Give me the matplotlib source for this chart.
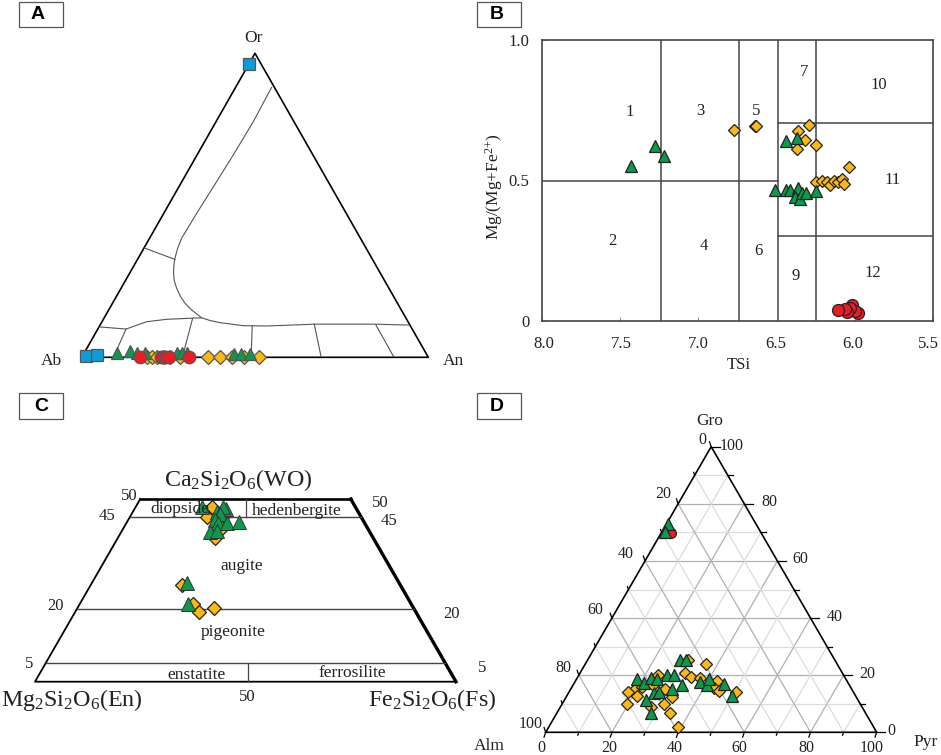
import matplotlib
matplotlib.use("Agg")
import matplotlib.pyplot as plt
from matplotlib.patches import Rectangle

plt.rcParams['font.family'] = ['Liberation Serif', 'DejaVu Serif']
plt.rcParams['mathtext.fontset'] = 'custom'
plt.rcParams['mathtext.rm'] = 'Liberation Serif'
plt.rcParams['mathtext.default'] = 'rm'

W, H = 941, 755

GREEN = '#0b9a4b'
YELLOW = '#fdb913'
RED = '#ed1c24'
BLUE = '#0f9bd7'
TEXT = '#222222'

# Panel A, feldspar: An, Or
a_blue_an = [0, 1, 4]
a_blue_or = [96.5, 0.4, 0.8]
a_green_an = [9.3, 13, 15.4, 17.5, 26.8, 28.3, 29.5, 43.4, 45.4, 48]
a_green_or = [1.5, 2.0, 1.3, 1.3, 1.3, 1.3, 1.5, 1.1, 1.1, 1.1]
a_yellow_an = [18.75, 20.2, 21.6, 23.6, 25.5, 28.4, 36.25, 39.8, 43.3, 46.6, 51]
a_yellow_or = [0.2] * 11
a_red_an = [16.8, 22.9, 23.6, 24.2, 25.2, 30.9]
a_red_or = [0, 0, 0, 0, 0, 0]

a_curve_an = [10.4, 10.75, 10.45, 9.95, 9.5, 9.25, 9.75, 10.6, 11.4, 12.7, 14.1, 16.05, 18.3, 20.9, 23.9, 28.1, 31, 34.2, 41.4, 48.25, 61.85, 79.15, 89.2]
a_curve_or = [88.8, 77.5, 66.6, 56.1, 47.4, 39.1, 35.9, 32.6, 30.4, 27.6, 25.2, 22.7, 20.2, 17.8, 15.6, 13.0, 12.1, 11.4, 10.4, 10.3, 10.9, 10.9, 10.6]
a_upper_an = [0, 8.15, 12.9, 18.25, 28.1]
a_upper_or = [10, 9.3, 11.7, 12.5, 13.0]
a_ties = [((0, 36), (10.8, 32.2)), ((8.15, 9.3), (8.9, 2.4)), ((25.6, 12.8), (28.4, 2.4)),
          ((44, 10.4), (48, 1.9)), ((61.65, 10.9), (69.1, 0)), ((79.6, 10.6), (90.1, 0))]

# Panel B
b_green_x = [7.43, 7.28, 7.22, 6.44, 6.37, 6.51, 6.44, 6.415, 6.36, 6.38, 6.35, 6.34, 6.31, 6.25]
b_green_y = [.552, .624, .588, .639, .650, .465, .467, .466, .473, .442, .433, .457, .454, .463]
b_yellow_x = [6.77, 6.64, 6.63, 6.29, 6.36, 6.32, 6.37, 6.25, 6.04, 6.245, 6.21, 6.175, 6.16, 6.135, 6.11, 6.085, 6.07]
b_yellow_y = [.680, .695, .694, .698, .675, .644, .613, .625, .548, .495, .497, .495, .483, .500, .495, .507, .488]
b_red_x = [5.98, 6.01, 6.02, 6.0, 6.03, 6.05, 6.06, 6.11]
b_red_y = [.030, .039, .057, .037, .045, .032, .042, .040]
b_xticks = [8.0, 7.5, 7.0, 6.5, 6.0, 5.5]
b_xlabels = ['8.0', '7.5', '7.0', '6.5', '6.0', '5.5']
b_yticks = [0, 0.5, 1.0]

# Panel C: position along the base, Wo
c_yellow_x = [42.1, 40.8, 42.8, 44.3, 34.8, 37.5, 39.0, 42.4]
c_yellow_wo = [47.9, 45.2, 39.2, 42.0, 26.5, 21.4, 19.0, 20.3]
c_green_x = [39.7, 43.2, 44.3, 45.4, 44.6, 43.9, 42.8, 43.5, 45.7, 48.4, 41.6, 43.2, 36.2, 36.4]
c_green_wo = [47.7, 46.5, 46.7, 47.3, 47.9, 45.8, 44.3, 43.3, 43.3, 43.8, 40.9, 41.2, 26.9, 21.2]

# Panel D: Pyr, Gro
d_green_pyr = [.66, 1.0, 28.0, 29.7, 18.15, 21.1, 22.25, 24.15, 26.55, 28.85, 30.7, 33.0, 25.8, 27.2, 24.6, 28.35, 37.75, 40.3, 40.05, 45.45, 50.0]
d_green_gro = [72.8, 70.1, 25.2, 25.4, 18.7, 17.4, 18.9, 18.7, 20.1, 20.1, 15.2, 16.6, 13.65, 14.2, 11.2, 6.9, 17.7, 16.6, 18.7, 16.9, 12.8]
d_red_pyr = [3.05]
d_red_gro = [69.7]
d_yellow_pyr = [30.5, 36.5, 31.65, 34.3, 23.95, 24.2, 19.4, 18.0, 21.15, 19.8, 28.45, 31.85, 30.95, 27.2, 34.15, 38.95, 37.15, 42.9, 43.1, 45.25, 50.4, 21.0]
d_yellow_gro = [25.2, 23.8, 20.9, 19.25, 20.1, 16.6, 15.2, 14.0, 12.7, 9.8, 15.2, 12.5, 9.8, 9.0, 6.9, 1.9, 18.9, 18.0, 15.6, 14.5, 14.0, 16.0]

fig = plt.figure(figsize=(W / 100, H / 100), dpi=100)


def px_axes(left, top, right, bottom):
    return fig.add_axes([left / W, 1 - bottom / H, (right - left) / W, (bottom - top) / H])


def label(x, y, s, size=12, **kw):
    kw.setdefault('color', TEXT)
    fig.text(x / W, 1 - y / H, s, ha='center', va='center', fontsize=size, **kw)


def panel_tag(left, top, s, tx=None):
    fig.add_artist(Rectangle((left / W, 1 - (top + 25.5) / H), 44 / W, 25.5 / H, transform=fig.transFigure,
                             facecolor='white', edgecolor='#555555', lw=0.9))
    label(tx if tx else left + 22, top + 13, s, size=14, family='Liberation Sans', weight='bold', color='black')


def tern(a, b):
    # a runs along the base, b is the height
    return [p + q / 2 for p, q in zip(a, b)], list(b)


def scatter(ax, x, y, kind, size, z, edge='#222222', lw=0.9):
    colors = {'^': GREEN, 'D': YELLOW, 'o': RED, 's': BLUE}
    ax.plot(x, y, ls='none', marker=kind, ms=size, mfc=colors[kind], mec=edge, mew=lw, zorder=z, clip_on=False)


# ---- A ----
ax = px_axes(81.7, 53.3, 428.3, 357.3)
ax.set_xlim(0, 100)
ax.set_ylim(0, 100)
ax.axis('off')
ax.plot([0, 50, 100, 0], [0, 100, 0, 0], color='black', lw=1.2, clip_on=False, zorder=2)
x, y = tern(a_curve_an, a_curve_or)
ax.plot(x, y, color='#555555', lw=0.8)
x, y = tern(a_upper_an, a_upper_or)
ax.plot(x, y, color='#555555', lw=0.8)
for p, q in a_ties:
    x, y = tern([p[0], q[0]], [p[1], q[1]])
    ax.plot(x, y, color='#555555', lw=0.8)
x, y = tern(a_yellow_an, a_yellow_or)
scatter(ax, x, y, 'D', 7.3, 3, edge='#555555')
x, y = tern(a_green_an, a_green_or)
scatter(ax, x, y, '^', 8.2, 4, edge='#555555')
x, y = tern(a_red_an, a_red_or)
scatter(ax, x, y, 'o', 9.0, 5, edge='#555555')
x, y = tern(a_blue_an, a_blue_or)
scatter(ax, x, y, 's', 8.0, 6, edge='#555555')
label(253, 38, 'Or', 12.5)
label(51, 361, 'Ab', 12.5)
label(453, 361, 'An', 12.5)
panel_tag(19.3, 1.7, 'A', tx=37.5)

# ---- B ----
ax = px_axes(542, 40, 933, 321)
ax.set_xlim(8.0, 5.5)
ax.set_ylim(0, 1.0)
for s in ax.spines.values():
    s.set_color('#444444')
    s.set_linewidth(1.2)
for v in [7.24, 6.74, 6.49, 6.25]:
    ax.axvline(v, color='#444444', lw=1.1, zorder=1)
ax.plot([8.0, 6.49], [.5, .5], color='#444444', lw=1.1, zorder=1)
ax.plot([6.49, 5.5], [.703, .703], color='#444444', lw=1.1, zorder=1)
ax.plot([6.49, 5.5], [.304, .304], color='#444444', lw=1.1, zorder=1)
ax.set_xticks(b_xticks)
ax.set_xticklabels([])
ax.set_yticks(b_yticks)
ax.set_yticklabels(['0', '0.5', '1.0'], fontsize=12, color=TEXT)
ax.tick_params(axis='both', direction='in', length=3, width=0.6, color='#777777')
ax.tick_params(axis='y', pad=9)
for x, s in zip([544, 621.7, 698, 776, 853, 928], b_xlabels):
    label(x, 344, s, 12)
scatter(ax, b_yellow_x, b_yellow_y, 'D', 6.1, 3)
scatter(ax, b_green_x, b_green_y, '^', 8.0, 4)
scatter(ax, b_red_x, b_red_y, 'o', 8.6, 5)
for x, y, s in [(630, 112, '1'), (612, 241, '2'), (700, 111, '3'), (704, 246, '4'), (756, 111, '5'),
                (758, 251, '6'), (804, 72, '7'), (796, 276, '9'), (879, 85, '10'), (893, 180, '11'),
                (873, 273, '12')]:
    label(x, y, s, 12)
label(739, 365, 'TSi', 12)
label(494, 187, 'Mg/(Mg+Fe$^{2{+}}$)', 12.5, rotation=90)
panel_tag(476.7, 1.7, 'B', tx=497)

# ---- C ----
ax = px_axes(35, 499, 456, 681.7)
ax.set_xlim(0, 100)
ax.set_ylim(0, 50)
ax.axis('off')
ax.plot([25, 0, 100], [50, 0, 0], color='black', lw=1.3, clip_on=False)
ax.plot([25, 75], [50, 50], color='black', lw=1.9, clip_on=False)
ax.plot([75, 100], [50, 0], color='black', lw=2.4, clip_on=False)
for wo in [45, 20, 5]:
    ax.plot([wo / 2, 100 - wo / 2], [wo, wo], color='#444444', lw=1.0)
ax.plot([50, 50], [45, 50], color='#444444', lw=0.9)
ax.plot([50.7, 50.7], [0, 5], color='#444444', lw=0.9)
scatter(ax, c_yellow_x, c_yellow_wo, 'D', 7.2, 3)
scatter(ax, c_green_x, c_green_wo, '^', 10.4, 4, edge='#333333', lw=0.7)
label(180, 509, 'diopside', 12.5, zorder=0)
label(297, 511, 'hedenbergite', 12.5)
label(242, 566, 'augite', 12.5)
label(233, 632, 'pigeonite', 12.5)
label(196, 675, 'enstatite', 12.5)
label(352, 673, 'ferrosilite', 12.5)
label(238, 480, 'Ca$_2$Si$_2$O$_6$(WO)', 17.3)
label(72, 700, 'Mg$_2$Si$_2$O$_6$(En)', 17.3)
label(432, 700, 'Fe$_2$Si$_2$O$_6$(Fs)', 17.3)
for x, y, s in [(129, 496, '50'), (107, 516, '45'), (55, 606, '20'), (29, 664, '5'), (380, 503, '50'),
                (389, 521, '45'), (452, 614, '20'), (482, 668, '5'), (247, 697, '50')]:
    label(x, y, s, 12)
panel_tag(19.3, 393.3, 'C', tx=41)

# ---- D ----
ax = px_axes(545.7, 446.7, 876.7, 732.3)
ax.set_xlim(0, 100)
ax.set_ylim(0, 100)
ax.axis('off')
for v in range(10, 100, 10):
    col = '#b0b0b0' if v % 20 == 0 else '#dcdcdc'
    ax.plot([v / 2, 100 - v / 2], [v, v], color=col, lw=0.9, zorder=1)
    ax.plot([v, v + (100 - v) / 2], [0, 100 - v], color=col, lw=0.9, zorder=1)
    ax.plot([v, v / 2], [0, v], color=col, lw=0.9, zorder=1)
ax.plot([0, 50, 100, 0], [0, 100, 0, 0], color='black', lw=1.2, clip_on=False, zorder=2)
for v in range(0, 101, 10):
    size = 1.0 if v % 20 == 0 else 0.6
    ax.plot([v, v - size / 2], [0, -1.7 * size], color='black', lw=0.9, clip_on=False)
    ax.plot([v / 2, v / 2 - size / 2], [v, v + 1.7 * size], color='black', lw=0.9, clip_on=False)
    ax.plot([100 - v / 2, 100 - v / 2 + 2.6 * size], [v, v], color='black', lw=0.9, clip_on=False)
x, y = tern(d_red_pyr, d_red_gro)
scatter(ax, x, y, 'o', 7.0, 3)
x, y = tern(d_yellow_pyr, d_yellow_gro)
scatter(ax, x, y, 'D', 6.0, 4)
x, y = tern(d_green_pyr, d_green_gro)
scatter(ax, x, y, '^', 8.2, 5)
for x, y, s in [(702, 440, '0'), (732, 446, '100'), (663, 494, '20'), (626, 554, '40'), (595, 610, '60'),
                (563, 668, '80'), (531, 724, '100'), (769, 502, '80'), (800, 559, '60'), (835, 617, '40'),
                (867, 674, '20'), (891, 731, '0'), (541, 748, '0'), (609, 748, '20'), (675, 748, '40'),
                (739, 748, '60'), (806, 748, '80'), (872, 748, '100')]:
    label(x, y, s, 11.5)
label(710, 421, 'Gro', 12.5)
label(926, 742, 'Pyr', 12.5)
label(489, 746, 'Alm', 12.5)
panel_tag(476.7, 393.3, 'D', tx=497)

fig.savefig('out.png', dpi=100)
